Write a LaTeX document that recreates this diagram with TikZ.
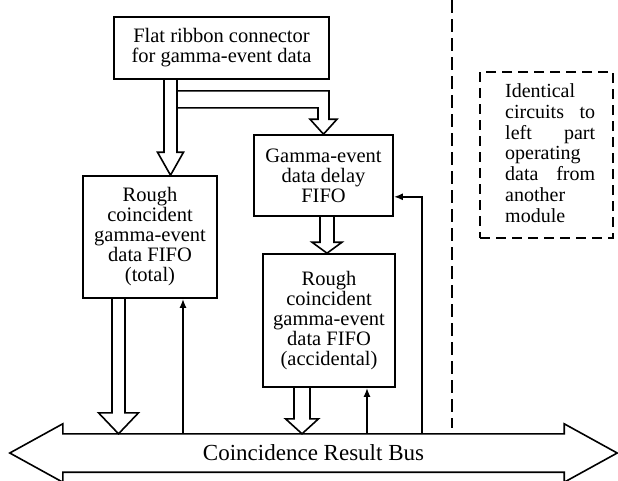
\documentclass[tikz,border=0pt]{standalone}
\usepackage{fontspec}
\setmainfont{Liberation Serif}
\usetikzlibrary{calc,arrows.meta}
\tikzset{
  box/.style={draw, line width=1.6pt, align=center, inner sep=0pt, font=\fontsize{20.5}{20}\selectfont},
  fat/.style={draw, line width=1.6pt, line join=miter},
  thinarr/.style={line width=1.8pt, -{Latex[length=9pt,width=7pt]}},
  divider/.style={line width=2.8pt, dash pattern=on 13pt off 6pt},
  dashbox/.style={draw, line width=2.8pt, dash pattern=on 10pt off 6pt, inner sep=0pt},
}
\newcommand\fatarrow[5]{%
  \draw[fat] let \p1=(#1), \p2=(#2) in
    (\x1-#3pt,\y1) -- (\x1-#3pt,\y2+#5pt) -- (\x1-#4pt,\y2+#5pt) -- (\x1,\y2)
    -- (\x1+#4pt,\y2+#5pt) -- (\x1+#3pt,\y2+#5pt) -- (\x1+#3pt,\y1);}
\begin{document}
\begin{tikzpicture}[x=1pt,y=-1pt]
\useasboundingbox (0,0) rectangle (618,480);
\clip (0,0) rectangle (618,480);
% boxes
\node[box, minimum width=215pt, minimum height=62pt] (top) at (221.5,48)
  {Flat ribbon connector\\for gamma-event data};
\node[box, minimum width=134pt, minimum height=122pt] (total) at (150,237)
  {Rough\\coincident\\gamma-event\\data FIFO\\(total)};
\node[box, minimum width=139pt, minimum height=81pt] (delay) at (323.5,175.5)
  {Gamma-event\\data delay\\FIFO};
\node[box, minimum width=132pt, minimum height=133pt] (acc) at (329,320.5)
  {Rough\\coincident\\gamma-event\\data FIFO\\(accidental)};
% dashed box
\node[dashbox, minimum width=133pt, minimum height=166pt] (other) at (546.5,155) {};
\node[align=left, inner sep=0pt, anchor=west, font=\fontsize{20}{20.8}\selectfont] (othertext) at (505,153)
  {Identical\\
   \makebox[90pt][l]{circuits\hfill to}\\
   \makebox[90pt][l]{left\hfill part}\\
   operating\\
   \makebox[90pt][l]{data\hfill from}\\
   another\\
   module};
% bus
\node[inner sep=0pt, minimum width=501pt, minimum height=38pt, font=\fontsize{23}{24}\selectfont] (bus) at (313.5,453)
  {Coincidence Result Bus};
\draw[fat] (bus.north west) -- ($(bus.north west)+(0,-10)$) -- ($(bus.west)+(-53,0)$)
  -- ($(bus.south west)+(0,10)$) -- (bus.south west) -- (bus.south east)
  -- ($(bus.south east)+(0,10)$) -- ($(bus.east)+(53,0)$)
  -- ($(bus.north east)+(0,-10)$) -- (bus.north east) -- cycle;
% guide x positions
\coordinate (g1) at (170.5,0);
\coordinate (g3) at (327,0);
\coordinate (g4) at (118.5,0);
\coordinate (g5) at (302,0);
\coordinate (u1) at (183,0);
\coordinate (u2) at (367,0);
\coordinate (u3) at (422,0);
\coordinate (d0) at (452,0);
% fat arrows
\fatarrow{g1 |- top.south}{g1 |- total.north}{6.5}{13}{23}
\draw[fat] let \p1=(g1 |- top.south), \p2=(delay.north) in
  (\x1+6.5pt,\y1-11pt) -- (\x2+5.5pt,\y1-11pt) -- (\x2+5.5pt,\y2+15pt)
  -- (\x2+13.5pt,\y2+15pt) -- (\x2,\y2) -- (\x2-13.5pt,\y2+15pt)
  -- (\x2-5.5pt,\y2+15pt) -- (\x2-5.5pt,\y1-28pt) -- (\x1+6.5pt,\y1-28pt);
\fatarrow{g3 |- delay.south}{g3 |- acc.north}{7}{15}{11}
\fatarrow{g4 |- total.south}{g4 |- bus.north}{6.5}{20}{21}
\fatarrow{g5 |- acc.south}{g5 |- bus.north}{8}{16.5}{15}
% thin arrows
\draw[thinarr] (u1 |- bus.north) -- (u1 |- total.south);
\draw[thinarr] (u2 |- bus.north) -- (u2 |- acc.south);
\coordinate (fb) at ($(delay.south east)+(0,-20)$);
\draw[thinarr] (u3 |- bus.north) -- (u3 |- fb) -- (fb);
% divider
\draw[divider, shorten >=6pt] (d0) -- (d0 |- bus.north);
\end{tikzpicture}
\end{document}
